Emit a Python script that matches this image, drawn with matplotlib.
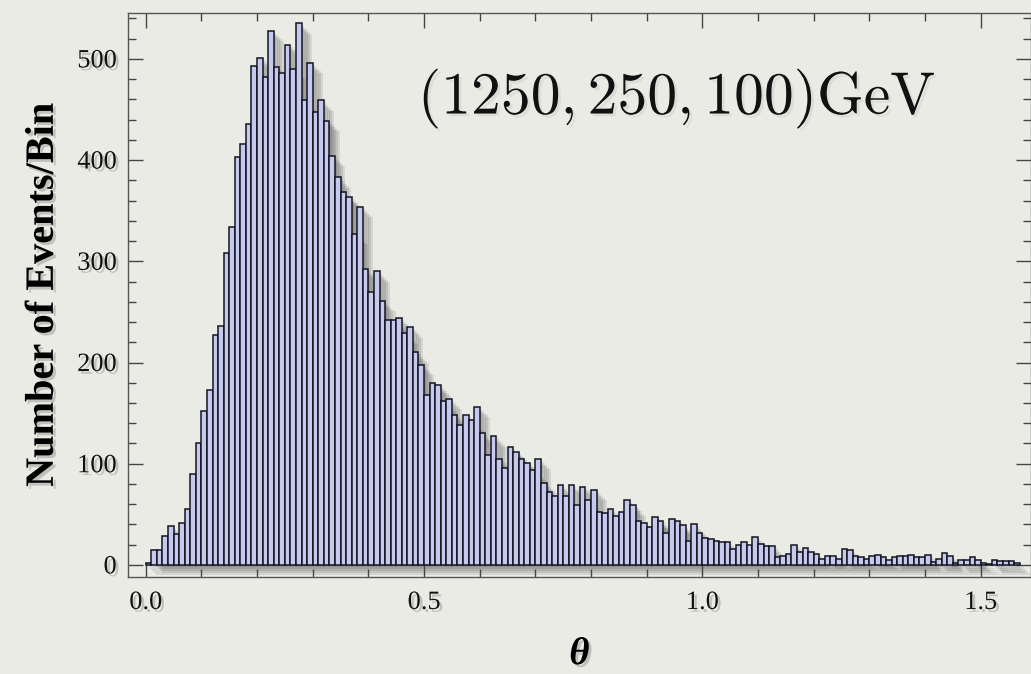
import numpy as np
import matplotlib
matplotlib.use("Agg")
import matplotlib.pyplot as plt
import matplotlib.patheffects as pe
from matplotlib.ticker import MultipleLocator

plt.rcParams['mathtext.fontset'] = 'cm'

bin_width = 0.01
counts = [2, 15, 15, 29, 38, 31, 41, 55, 90, 120,
          152, 173, 227, 236, 308, 334, 403, 416, 436, 493,
          501, 482, 528, 492, 486, 514, 490, 535, 459, 496,
          448, 459, 439, 404, 383, 368, 364, 327, 354, 292,
          270, 290, 261, 242, 242, 244, 229, 235, 210, 198,
          168, 180, 178, 162, 164, 148, 138, 148, 143, 156,
          130, 109, 127, 105, 96, 117, 112, 105, 101, 94,
          105, 81, 72, 68, 79, 68, 79, 59, 77, 64,
          74, 52, 51, 55, 48, 52, 64, 59, 43, 41,
          37, 47, 43, 32, 45, 43, 39, 24, 40, 32,
          27, 26, 24, 23, 23, 16, 20, 23, 20, 28,
          21, 19, 19, 8, 9, 11, 20, 13, 17, 13,
          11, 6, 9, 9, 6, 16, 15, 9, 8, 6,
          9, 10, 8, 5, 8, 9, 9, 10, 8, 8,
          10, 3, 6, 12, 9, 2, 5, 5, 8, 5,
          2, 1, 5, 4, 4, 4, 2]
x_ticks = [0.0, 0.5, 1.0, 1.5]
y_ticks = [0, 100, 200, 300, 400, 500]
label_text = r'$(1250, 250, 100)\mathrm{GeV}$'

bg = '#ebebe6'
lefts = np.arange(len(counts)) * bin_width
edges = np.arange(len(counts) + 1) * bin_width

fig = plt.figure(figsize=(10.31, 6.74), dpi=100, facecolor=bg)
ax = fig.add_axes([0.1239, 0.1444, 0.8761, 0.8358], facecolor=bg)

# soft shadow behind the histogram outline
shadow = [pe.SimplePatchShadow(offset=(o, -o), shadow_rgbFace='black', alpha=0.09) for o in (1.5, 3, 4.5, 6, 7.5)]
ax.stairs(counts, edges, fill=True, color=bg, zorder=1, path_effects=shadow)
ax.bar(lefts, counts, width=bin_width, align='edge', color='#c6c9ee',
       edgecolor='#14141f', linewidth=1.1, zorder=2)

ax.set_xlim(-0.0323, 1.5903)
ax.set_ylim(-11.6, 545)
ax.set_xticks(x_ticks)
ax.set_yticks(y_ticks)
ax.xaxis.set_minor_locator(MultipleLocator(0.1))
ax.yaxis.set_minor_locator(MultipleLocator(20))
ax.tick_params(which='both', direction='in', top=True, right=True, colors='#444444', width=1)
ax.tick_params(which='major', length=11, pad=11)
ax.tick_params(which='minor', length=6)
ax.tick_params(axis='y', which='major', pad=8)
for s in ax.spines.values():
    s.set_color('#555555')
    s.set_linewidth(1)

txt_shadow = [pe.withSimplePatchShadow(offset=(2, -2), shadow_rgbFace='black', alpha=0.18)]
for lab in ax.get_xticklabels() + ax.get_yticklabels():
    lab.set_fontfamily('Liberation Serif')
    lab.set_fontsize(19)
    lab.set_color('#111111')
    lab.set_path_effects(txt_shadow)

ax.set_xlabel('θ', fontfamily='Liberation Serif', fontsize=28, fontweight='bold',
              fontstyle='italic', labelpad=16, path_effects=txt_shadow)
ax.set_ylabel('Number of Events/Bin', fontfamily='Liberation Serif', fontsize=29,
              fontweight='bold', labelpad=11, path_effects=txt_shadow)

ax.text(0.4890, 446, label_text, fontsize=43, ha='left', va='baseline', color='#111111',
        path_effects=[pe.withSimplePatchShadow(offset=(2, -2), shadow_rgbFace='black', alpha=0.06)])

plt.savefig('out.png', dpi=100, facecolor=bg)
